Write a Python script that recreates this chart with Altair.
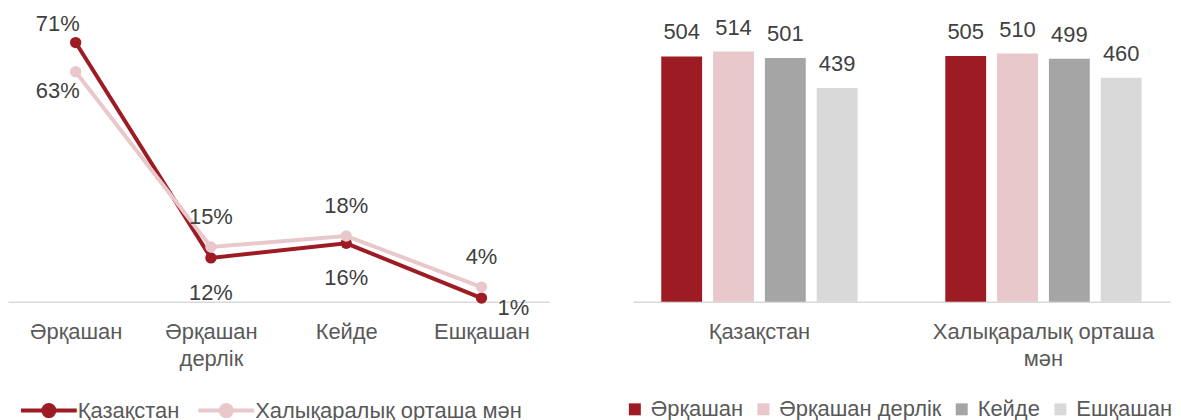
import altair as alt
import pandas as pd

# ---- data ----
freq = ["Әрқашан", "Әрқашан дерлік", "Кейде", "Ешқашан"]
groups = ["Қазақстан", "Халықаралық орташа мән"]
share_kz = [0.71, 0.12, 0.16, 0.01]
share_intl = [0.63, 0.15, 0.18, 0.04]
score_kz = [504, 514, 501, 439]
score_intl = [505, 510, 499, 460]

line_colors = ["#9D1C24", "#E8C8CA"]
bar_colors = ["#9D1C24", "#E8C8CA", "#A5A5A5", "#D9D9D9"]

FONT = "Liberation Sans"
FS = 22
LABEL_C = "#404040"
AXIS_C = "#595959"
BASE_C = "#D9D9D9"

line_df = pd.DataFrame({
    "freq": freq * 2,
    "group": [groups[0]] * len(freq) + [groups[1]] * len(freq),
    "share": share_kz + share_intl,
})
bar_df = pd.DataFrame({
    "group": [groups[0]] * len(freq) + [groups[1]] * len(freq),
    "freq": freq * 2,
    "score": score_kz + score_intl,
})

wrap = ("length(datum.label) > 12 ? [slice(datum.label, 0, lastindexof(datum.label, ' ')), "
        "slice(datum.label, lastindexof(datum.label, ' ') + 1)] : datum.label")


def x_axis():
    return alt.Axis(title=None, ticks=False, labelExpr=wrap, labelFont=FONT, labelFontSize=FS,
                    labelColor=AXIS_C, labelPadding=20, labelLineHeight=27, labelLimit=0,
                    labelAngle=0, domainColor=BASE_C, domainWidth=1.5)


# ---- left: line chart ----
sym_path = "M-4,0H4M-0.8,0A0.8,0.8,0,1,0,0.8,0A0.8,0.8,0,1,0,-0.8,0Z"
left_legend = alt.Legend(orient="none", legendX=30, legendY=391, direction="horizontal",
                         columns=2, title=None, padding=0, symbolType=sym_path, symbolSize=196,
                         symbolStrokeWidth=4, labelOffset=18, columnPadding=11,
                         labelFont=FONT, labelFontSize=FS, labelColor=AXIS_C, labelLimit=0)
line_scale = alt.Scale(domain=groups, range=line_colors)

base = alt.Chart(line_df).encode(
    x=alt.X("freq:N", sort=freq, axis=x_axis(), scale=alt.Scale(type="point", padding=0.5)),
    y=alt.Y("share:Q", scale=alt.Scale(domain=[0, 0.8]), axis=None),
)
lines = base.mark_line(strokeWidth=4).encode(
    stroke=alt.Stroke("group:N", sort=groups, scale=line_scale, legend=left_legend))
points = base.mark_circle(size=130, opacity=1).encode(
    fill=alt.Fill("group:N", sort=groups, scale=line_scale, legend=left_legend))

lab = base.transform_joinaggregate(mx="max(share)", groupby=["freq"]).transform_calculate(
    up="datum.share == datum.mx", txt="format(datum.share, '.0%')")
first, last = freq[0], freq[-1]


def tl(expr, dx, dy):
    return lab.transform_filter(expr).mark_text(
        font=FONT, fontSize=FS, color=LABEL_C, baseline="middle", align="center", dx=dx, dy=dy
    ).encode(text="txt:N")


t_up = tl(f"datum.up && datum.freq != '{first}'", 0, -30)
t_dn = tl(f"!datum.up && datum.freq != '{first}' && datum.freq != '{last}'", 0, 35)
t_fu = tl(f"datum.up && datum.freq == '{first}'", -18, -19)
t_fd = tl(f"!datum.up && datum.freq == '{first}'", -18, 19)
t_ld = tl(f"!datum.up && datum.freq == '{last}'", 32, 10)

left = alt.layer(lines, points, t_up, t_dn, t_fu, t_fd, t_ld).properties(width=543, height=293)

# ---- right: grouped bars ----
right_legend = alt.Legend(orient="none", legendX=-9, legendY=390, direction="horizontal",
                          columns=4, title=None, padding=0, symbolType="square", symbolSize=144,
                          symbolStrokeWidth=0, labelOffset=5, columnPadding=9,
                          labelFont=FONT, labelFontSize=FS, labelColor=AXIS_C, labelLimit=0)

bbase = alt.Chart(bar_df).encode(
    x=alt.X("group:N", sort=groups, axis=x_axis(),
            scale=alt.Scale(paddingInner=0.1088, paddingOuter=0)),
    xOffset=alt.XOffset("freq:N", sort=freq, scale=alt.Scale(paddingInner=0.2115, paddingOuter=0.548)),
    y=alt.Y("score:Q", scale=alt.Scale(domain=[0, 600]), axis=None),
)
bars = bbase.mark_bar().encode(
    color=alt.Color("freq:N", sort=freq, scale=alt.Scale(domain=freq, range=bar_colors),
                    legend=right_legend))
btext = bbase.mark_text(font=FONT, fontSize=FS, color=LABEL_C, baseline="middle",
                        align="center", dy=-24).encode(text="score:Q")

right = alt.layer(bars, btext).properties(width=539, height=293)

chart = alt.hconcat(left, right, spacing=75).resolve_scale(
    color="independent", fill="independent", stroke="independent"
).resolve_legend(color="independent", fill="independent", stroke="independent").properties(
    padding={"left": 0, "top": 1, "right": 0, "bottom": 0}
).configure_view(stroke=None)

chart.save("out.html", embed_options={"renderer": "svg", "actions": False})
